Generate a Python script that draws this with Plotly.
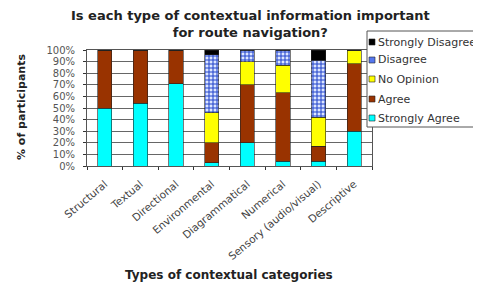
import plotly.graph_objects as go

categories = ["Structural", "Textual", "Directional", "Environmental",
              "Diagrammatical", "Numerical", "Sensory (audio/visual)", "Descriptive"]
strongly_agree = [50, 54, 71, 3, 20, 4, 4, 30]
agree = [50, 46, 29, 17, 50, 59, 13, 58]
no_opinion = [0, 0, 0, 26, 20, 24, 25, 12]
disagree = [0, 0, 0, 50, 10, 13, 49, 0]
strongly_disagree = [0, 0, 0, 4, 0, 0, 9, 0]
y_ticks = list(range(0, 101, 10))
y_labels = [f"{v}%" for v in y_ticks]

series_names = ["Strongly Disagree", "Disagree", "No Opinion", "Agree", "Strongly Agree"]
series_colors = ["#000000", "#5577ee", "#FFFF00", "#993300", "#00FFFF"]

FONT = "DejaVu Sans, Verdana, sans-serif"
line = dict(color="#222222", width=0.6)

# page geometry of the plot area (page has an 8px body margin)
PL, PR, PT, PB = 87, 372, 50, 166
W, H = 481 - 8, 286 - 8


def px(x):
    return (x - PL) / (PR - PL)


def py(y):
    return (PB - y) / (PB - PT)


fig = go.Figure()
fig.add_trace(go.Bar(x=categories, y=strongly_agree, name="Strongly Agree",
                     marker=dict(color="#00FFFF", line=line)))
fig.add_trace(go.Bar(x=categories, y=agree, name="Agree",
                     marker=dict(color="#993300", line=line)))
fig.add_trace(go.Bar(x=categories, y=no_opinion, name="No Opinion",
                     marker=dict(color="#FFFF00", line=line)))
fig.add_trace(go.Bar(x=categories, y=disagree, name="Disagree",
                     marker=dict(color="#3355dd", line=line,
                                 pattern=dict(shape="+", size=4, solidity=0.45,
                                              fgcolor="#2244cc", bgcolor="#dde6ff",
                                              fillmode="replace"))))
fig.add_trace(go.Bar(x=categories, y=strongly_disagree, name="Strongly Disagree",
                     marker=dict(color="#000000", line=line)))

shapes = []
annotations = []

# title
annotations.append(dict(
    text="<b>Is each type of contextual information important<br>for route navigation?</b>",
    xref="paper", yref="paper", x=px(250), y=py(24), xanchor="center", yanchor="middle",
    showarrow=False, align="center",
    font=dict(family=FONT, size=13, color="#222222")))
# axis titles
annotations.append(dict(
    text="<b>% of participants</b>", xref="paper", yref="paper",
    x=px(21), y=py(107), xanchor="center", yanchor="middle", textangle=-90,
    showarrow=False, font=dict(family=FONT, size=11, color="#222222")))
annotations.append(dict(
    text="<b>Types of contextual categories</b>", xref="paper", yref="paper",
    x=px(229), y=py(275), xanchor="center", yanchor="middle",
    showarrow=False, font=dict(family=FONT, size=12, color="#222222")))

# legend box (cut by the right edge as in the reference)
shapes.append(dict(type="rect", xref="paper", yref="paper",
                   x0=px(367), x1=px(500), y0=py(127), y1=py(31),
                   fillcolor="white", line=dict(color="#555555", width=1), layer="above"))
item_y = [42, 60, 79, 99, 118]
for name, color, yy in zip(series_names, series_colors, item_y):
    shapes.append(dict(type="rect", xref="paper", yref="paper",
                       x0=px(369), x1=px(375), y0=py(yy + 3), y1=py(yy - 3),
                       fillcolor=color, line=dict(color="#222222", width=0.6), layer="above"))
    annotations.append(dict(
        text=name, xref="paper", yref="paper", x=px(376), y=py(yy),
        xanchor="left", yanchor="middle", showarrow=False,
        font=dict(family=FONT, size=11, color="#333333")))

fig.update_layout(
    width=W, height=H,
    barmode="stack", bargap=0.6,
    paper_bgcolor="white", plot_bgcolor="white",
    margin=dict(l=PL - 8, r=W - (PR - 8), t=PT - 8, b=H - (PB - 8), autoexpand=False),
    font=dict(family=FONT, size=9, color="#333333"),
    showlegend=False,
    shapes=shapes,
    annotations=annotations,
)
fig.update_xaxes(
    tickangle=-40, tickson="boundaries", ticks="outside", ticklen=3,
    tickcolor="#333333", showline=True, linecolor="#555555", mirror=True,
    ticklabelstandoff=7,
    tickfont=dict(family=FONT, size=10.5, color="#444444"),
)
fig.update_yaxes(
    range=[0, 100], tickvals=y_ticks, ticktext=y_labels,
    ticks="outside", ticklen=3, tickcolor="#333333", ticklabelstandoff=6,
    showgrid=True, gridcolor="#666666", gridwidth=1,
    showline=True, linecolor="#555555", mirror=True,
    tickfont=dict(family=FONT, size=10, color="#555555"),
)

fig.write_html("out.html")
